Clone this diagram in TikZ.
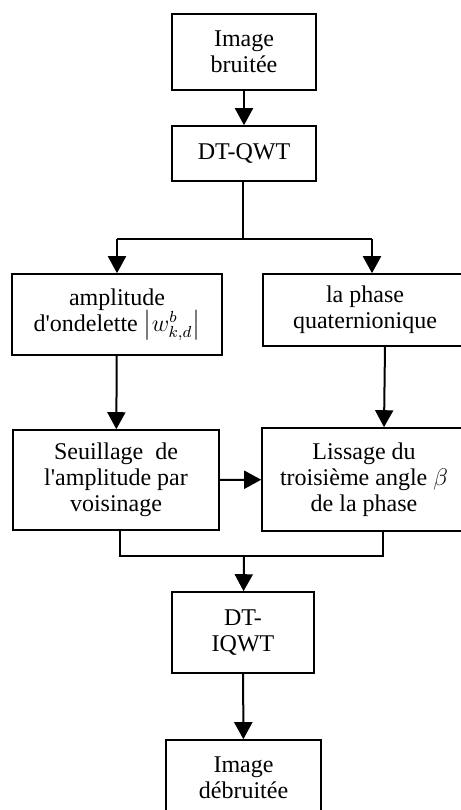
\documentclass[tikz,border=0pt]{standalone}
\usepackage{amsmath}
\usepackage{fontspec}
\setmainfont{Liberation Serif}
\usetikzlibrary{arrows.meta}

\begin{document}
\begin{tikzpicture}[x=0.5pt, y=-0.5pt,
        bloc/.style={draw, line width=0.8pt, inner sep=2pt, align=center, font=\fontsize{12}{13}\selectfont},
        fleche/.style={-{Triangle[length=8.5pt,width=9pt]}, line width=1pt},
        trait/.style={line width=0.7pt}]
        \clip (0,0) rectangle (461,810);

        \node[bloc, minimum width=72pt, minimum height=38pt] (bruit) at (244,52) {Image\\bruitée};
        \node[bloc, minimum width=72pt, minimum height=27.5pt] (qwt) at (244,153.5) {DT-QWT};
        \node[bloc, minimum width=105pt, minimum height=40.5pt] (ampl) at (117,314.5) {amplitude\\d\textquotesingle ondelette $\left|w_{k,d}^{b}\right|$};
        \node[bloc, minimum width=102pt, minimum height=36pt] (phase) at (365,310) {la phase\\quaternionique};
        \node[bloc, minimum width=103pt, minimum height=50pt] (seuil) at (116,480) {Seuillage\ \ de\\l\textquotesingle amplitude par\\voisinage};
        \node[bloc, minimum width=102pt, minimum height=51.5pt] (lisse) at (364,479.5) {Lissage du\\troisième angle {\large$\beta$}\\de la phase};
        \node[bloc, minimum width=71pt, minimum height=40.5pt] (iqwt) at (243,632.5) {DT-\\IQWT};
        \node[bloc, minimum width=77.5pt, minimum height=38pt] (debruit) at (243.5,778) {Image\\débruitée};

        \coordinate (sep) at (243,239);
        \coordinate (fus) at (244,556);

        \draw[fleche] (bruit) -- (qwt);
        \draw[trait] (qwt.south -| sep) -- (sep);
        \draw[trait] (sep -| ampl) -- (sep -| 372,0);
        \draw[fleche] (sep -| ampl) -- (ampl.north);
        \draw[fleche] (sep -| 372,0) -- (ampl.north -| 372,0);
        \draw[fleche] (ampl) -- (seuil);
        \draw[fleche] ([xshift=10pt]phase.south) -- ([xshift=10pt]lisse.north);
        \draw[fleche] (seuil) -- (lisse);
        \draw[trait] ([xshift=2pt]seuil.south) |- (fus) -| ([xshift=9.5pt]lisse.south);
        \draw[fleche] (fus) -- (iqwt);
        \draw[fleche] (iqwt) -- (debruit);
    \end{tikzpicture}
\end{document}
